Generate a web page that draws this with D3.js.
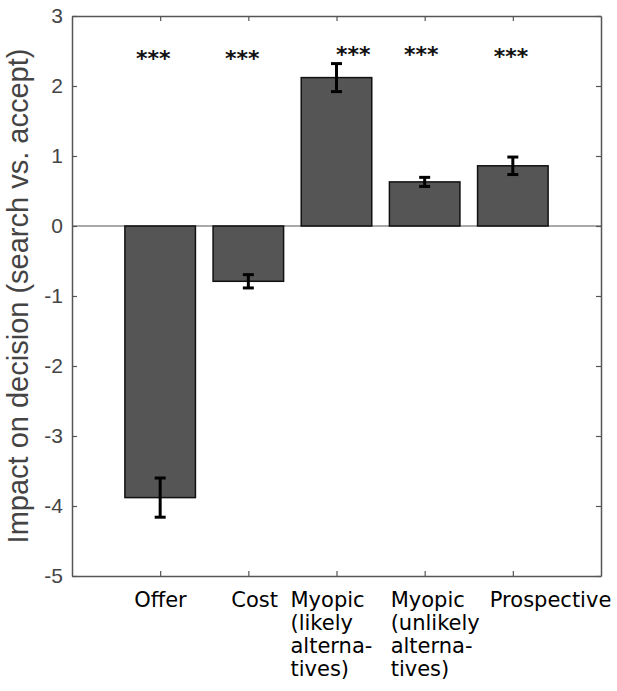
<!DOCTYPE html>
<html>
<head>
<meta charset="utf-8">
<script src="https://cdn.jsdelivr.net/npm/d3@7"></script>
<style>
  body { margin: 0; background: #fff; }
  svg { display: block; }
</style>
</head>
<body>
<svg id="chart" width="617" height="691"></svg>
<script>
// values
const categories = ["Offer", "Cost", "Myopic likely", "Myopic unlikely", "Prospective"];
const tickLabels = [
  ["Offer"],
  ["Cost"],
  ["Myopic", "(likely", "alterna-", "tives)"],
  ["Myopic", "(unlikely", "alterna-", "tives)"],
  ["Prospective"],
];
const values = [-3.88, -0.79, 2.12, 0.63, 0.86];
const errors = [0.28, 0.095, 0.2, 0.065, 0.125];
const stars = ["***", "***", "***", "***", "***"];
const yTicks = [-5, -4, -3, -2, -1, 0, 1, 2, 3];

// layout
const width = 617;
const height = 691;
const marginLeft = 72;
const marginRight = 16;
const marginTop = 16;
const plotBottom = 576;
const barWidth = 0.8;
const labelDx = [-26, -17, -46, -34, -23]; // label left edge vs tick (px)
const starDx = [-0.077, -0.068, 0.19, -0.04, -0.02]; // star offset (x units)
const starY = [2.28, 2.28, 2.35, 2.35, 2.32];

const svg = d3.select("#chart");

const x = d3
  .scaleLinear()
  .domain([0, 6])
  .range([marginLeft, width - marginRight]);

const y = d3
  .scaleLinear()
  .domain([-5, 3])
  .range([plotBottom, marginTop]);

const idx = d3.range(categories.length);

// zero line
svg
  .append("line")
  .attr("x1", x(0))
  .attr("x2", x(6))
  .attr("y1", y(0))
  .attr("y2", y(0))
  .attr("stroke", "#555")
  .attr("stroke-width", 1.2);

// bars
svg
  .selectAll(".bar")
  .data(idx)
  .join("rect")
  .attr("class", "bar")
  .attr("x", (i) => x(i + 1 - barWidth / 2))
  .attr("width", (i) => x(i + 1 + barWidth / 2) - x(i + 1 - barWidth / 2))
  .attr("y", (i) => y(Math.max(0, values[i])))
  .attr("height", (i) => Math.abs(y(values[i]) - y(0)))
  .attr("fill", "#555555")
  .attr("stroke", "#111")
  .attr("stroke-width", 1.5);

// error bars
const err = svg.append("g").attr("stroke", "#000").attr("stroke-width", 3);
idx.forEach((i) => {
  const cx = x(i + 1);
  const lo = y(values[i] - errors[i]);
  const hi = y(values[i] + errors[i]);
  err.append("line").attr("x1", cx).attr("x2", cx).attr("y1", lo).attr("y2", hi);
  err.append("line").attr("x1", cx - 5.5).attr("x2", cx + 5.5).attr("y1", lo).attr("y2", lo);
  err.append("line").attr("x1", cx - 5.5).attr("x2", cx + 5.5).attr("y1", hi).attr("y2", hi);
});

// significance stars
svg
  .selectAll(".star")
  .data(idx)
  .join("text")
  .attr("class", "star")
  .attr("x", (i) => x(i + 1 + starDx[i]))
  .attr("y", (i) => y(starY[i]))
  .attr("text-anchor", "middle")
  .attr("font-family", "DejaVu Sans")
  .attr("font-weight", "bold")
  .attr("font-size", 22)
  .attr("fill", "#111")
  .text((i) => stars[i]);

// axes, ticks point inward
const styleAxis = (g) => {
  g.select(".domain").attr("stroke", "#555").attr("stroke-width", 1.5);
  g.selectAll(".tick line").attr("stroke", "#555").attr("stroke-width", 1.2);
};

svg
  .append("g")
  .attr("transform", `translate(${x(0)},0)`)
  .call(
    d3
      .axisLeft(y)
      .tickValues(yTicks)
      .tickSizeInner(-5)
      .tickSizeOuter(0)
      .tickPadding(9)
      .tickFormat((d) => String(d))
  )
  .call(styleAxis)
  .call((g) =>
    g
      .selectAll(".tick text")
      .attr("font-family", "Liberation Sans, Arial, sans-serif")
      .attr("font-size", 21)
      .attr("fill", "#444")
  );

svg
  .append("g")
  .attr("transform", `translate(${x(6)},0)`)
  .call(d3.axisRight(y).tickValues(yTicks).tickSizeInner(-5).tickSizeOuter(0).tickFormat(""))
  .call(styleAxis);

svg
  .append("g")
  .attr("transform", `translate(0,${y(3)})`)
  .call(d3.axisTop(x).tickValues([1, 2, 3, 4, 5]).tickSizeInner(-5).tickSizeOuter(0).tickFormat(""))
  .call(styleAxis);

svg
  .append("g")
  .attr("transform", `translate(0,${y(-5)})`)
  .call(d3.axisBottom(x).tickValues([1, 2, 3, 4, 5]).tickSizeInner(-5).tickSizeOuter(0).tickFormat(""))
  .call(styleAxis);

// category labels (multi-line, left aligned)
const labels = svg
  .selectAll(".xlabel")
  .data(idx)
  .join("text")
  .attr("class", "xlabel")
  .attr("font-family", "DejaVu Sans")
  .attr("font-size", 21)
  .attr("fill", "#000")
  .attr("text-anchor", "start");

labels
  .selectAll("tspan")
  .data((i) => tickLabels[i].map((t) => ({ t, i })))
  .join("tspan")
  .attr("x", (d) => x(d.i + 1) + labelDx[d.i])
  .attr("y", (d, k) => plotBottom + 31 + k * 23)
  .text((d) => d.t);

// y axis title
svg
  .append("text")
  .attr("transform", `translate(28,${(y(3) + y(-5)) / 2}) rotate(-90)`)
  .attr("text-anchor", "middle")
  .attr("font-family", "Liberation Sans, Arial, sans-serif")
  .attr("font-size", 29)
  .attr("fill", "#444")
  .text("Impact on decision (search vs. accept)");
</script>
</body>
</html>
